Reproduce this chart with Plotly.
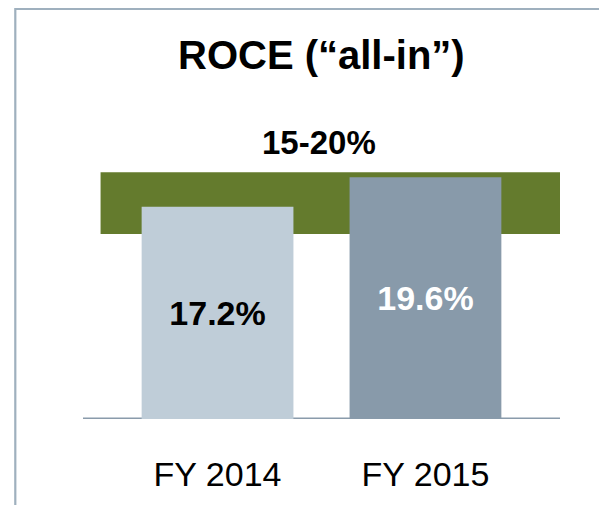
import plotly.graph_objects as go

categories = ["FY 2014", "FY 2015"]
roce_values = [17.2, 19.6]
value_labels = ["17.2%", "19.6%"]
target_low = 15
target_high = 20
target_label = "15-20%"
title_text = "ROCE (“all-in”)"

bar_colors = ["#bfcdd8", "#889aaa"]
label_colors = ["#000000", "#ffffff"]
FONT = "Liberation Sans, Arial, sans-serif"

OFF = 8  # browser body margin
W, H = 607 - OFF, 505 - OFF
L = 83 - OFF
R = W - (560 - OFF)
T = 123 - OFF
B = H - (419 - OFF)
ph = H - T - B
pw = W - L - R

def py(ref_y):
    return (H - B - (ref_y - OFF)) / ph

def px(ref_x):
    return ((ref_x - OFF) - L) / pw

fig = go.Figure()
fig.add_trace(go.Bar(
    x=categories, y=roce_values, width=0.73,
    marker=dict(color=bar_colors, line=dict(width=0)),
    text=[f"<b>{t}</b>" for t in value_labels],
    textposition="inside", insidetextanchor="middle",
    textfont=dict(family=FONT, size=34, color=label_colors),
    textangle=0, hoverinfo="skip",
))

shapes = [
    dict(type="rect", xref="x", yref="y", x0=-0.5625, x1=1.649,
         y0=target_low, y1=target_high, fillcolor="#647b2d",
         line=dict(width=0), layer="below"),
    dict(type="line", xref="paper", yref="y", x0=0, x1=1, y0=0, y1=0,
         line=dict(color="#8a9bab", width=3), layer="below"),
    dict(type="path", xref="paper", yref="paper",
         path=f"M {px(15.3)} {py(520)} L {px(15.3)} {py(9)} L {px(620)} {py(9)}",
         line=dict(color="#9fb0be", width=2.2)),
]

annotations = [
    dict(text=f"<b>{title_text}</b>", xref="paper", yref="paper",
         x=px(321), y=py(55), showarrow=False, xanchor="center", yanchor="middle",
         font=dict(family=FONT, size=40, color="#000000")),
    dict(text=f"<b>{target_label}</b>", xref="paper", yref="paper",
         x=px(319), y=py(142), showarrow=False, xanchor="center", yanchor="middle",
         font=dict(family=FONT, size=33, color="#000000")),
]

fig.update_layout(
    width=W, height=H,
    margin=dict(l=L, r=R, t=T, b=B, pad=0),
    paper_bgcolor="white", plot_bgcolor="white",
    showlegend=False,
    shapes=shapes, annotations=annotations,
    xaxis=dict(range=[-0.647, 1.647], showgrid=False, zeroline=False,
               showline=False, ticks="", type="category",
               ticklabelstandoff=32,
               tickfont=dict(family=FONT, size=34, color="#000000")),
    yaxis=dict(range=[0, 24], visible=False, showgrid=False, zeroline=False),
)

fig.write_html("out.html")
